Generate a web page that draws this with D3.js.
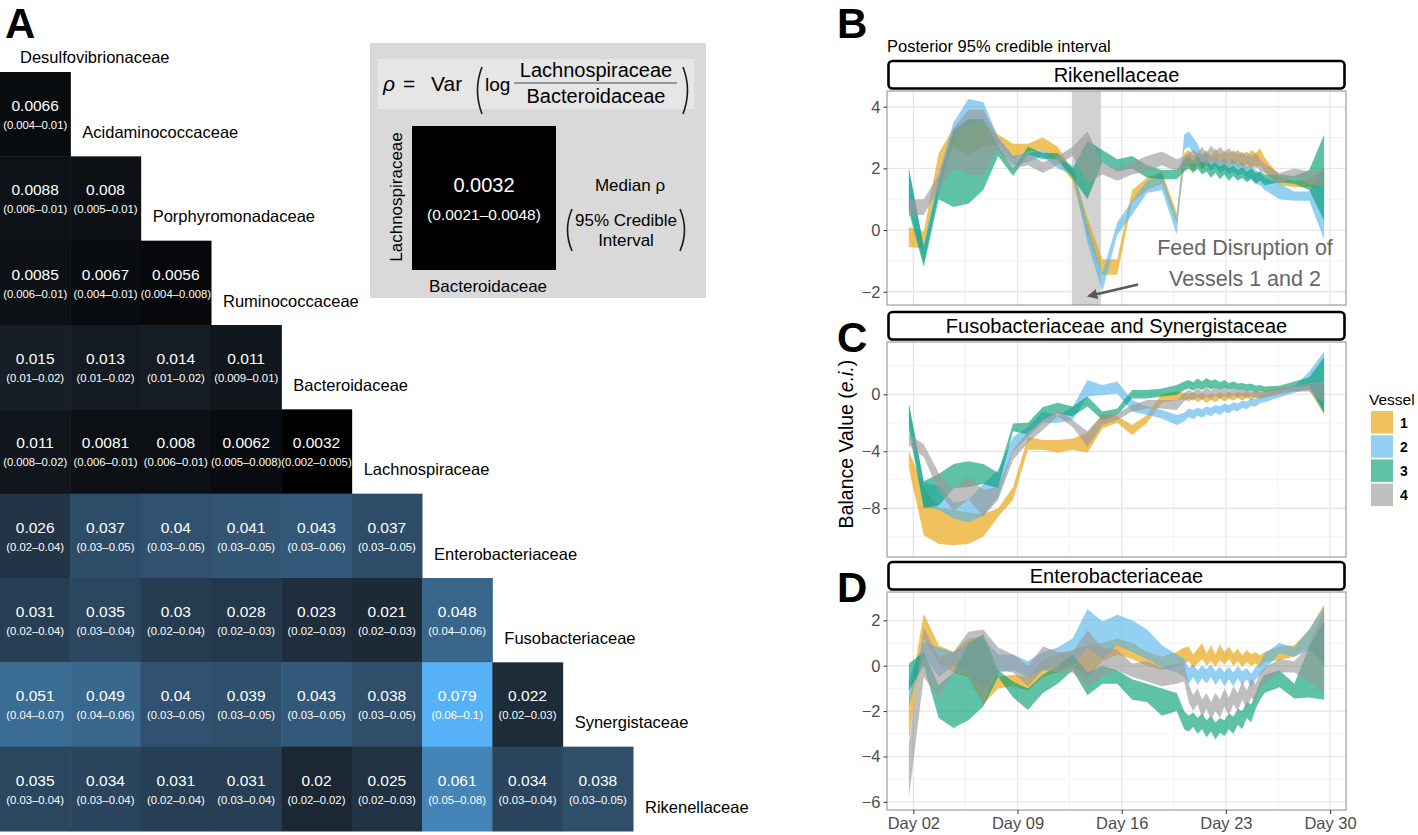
<!DOCTYPE html>
<html><head><meta charset="utf-8">
<script src="https://cdn.jsdelivr.net/npm/d3@7"></script>
<style>body{margin:0;background:#fff}svg{display:block;font-family:"Liberation Sans",Arial,Helvetica,sans-serif}</style>
</head><body><svg id="c" width="1418" height="835"></svg>
<script>
// ---------- Panel A data ----------
const taxa = ["Desulfovibrionaceae","Acidaminococcaceae","Porphyromonadaceae","Ruminococcaceae","Bacteroidaceae","Lachnospiraceae","Enterobacteriaceae","Fusobacteriaceae","Synergistaceae","Rikenellaceae"];
const medians = [
  [0.0066],
  [0.0088,0.008],
  [0.0085,0.0067,0.0056],
  [0.015,0.013,0.014,0.011],
  [0.011,0.0081,0.008,0.0062,0.0032],
  [0.026,0.037,0.04,0.041,0.043,0.037],
  [0.031,0.035,0.03,0.028,0.023,0.021,0.048],
  [0.051,0.049,0.04,0.039,0.043,0.038,0.079,0.022],
  [0.035,0.034,0.031,0.031,0.02,0.025,0.061,0.034,0.038]
];
const intervals = [
  ["0.004–0.01"],
  ["0.006–0.01","0.005–0.01"],
  ["0.006–0.01","0.004–0.01","0.004–0.008"],
  ["0.01–0.02","0.01–0.02","0.01–0.02","0.009–0.01"],
  ["0.008–0.02","0.006–0.01","0.006–0.01","0.005–0.008","0.002–0.005"],
  ["0.02–0.04","0.03–0.05","0.03–0.05","0.03–0.05","0.03–0.06","0.03–0.05"],
  ["0.02–0.04","0.03–0.04","0.02–0.04","0.02–0.03","0.02–0.03","0.02–0.03","0.04–0.06"],
  ["0.04–0.07","0.04–0.06","0.03–0.05","0.03–0.05","0.03–0.05","0.03–0.05","0.06–0.1","0.02–0.03"],
  ["0.03–0.04","0.03–0.04","0.02–0.04","0.03–0.04","0.02–0.02","0.02–0.03","0.05–0.08","0.03–0.04","0.03–0.05"]
];
const exampleMedian = 0.0032;
const exampleInterval = "(0.0021–0.0048)";

// ---------- Panels B-D data ----------
const days = [1.7,2.7,3.7,4.7,5.7,6.7,7.7,8.7,9.7,10.7,
  11.7,12.7,13.7,14.7,15.7,16.7,17.7,18.7,19.7,
  20.2,20.5,20.8,21.1,21.4,21.7,22.0,22.3,22.6,22.9,
  23.2,23.5,23.8,24.1,24.4,24.7,25.0,25.3,25.6,
  26.6,27.6,28.6,29.6];
const dayTicks = [2,9,16,23,30];
const dayTickLabels = ["Day 02","Day 09","Day 16","Day 23","Day 30"];
const vessels = ["1","2","3","4"];
const vesselColors = ["#E69F00","#56B4E9","#009E73","#999999"];
const disruption = [12.65,14.6];

const rikenV1 = [
[-0.55,0.1],[-0.6,-0.05],[1.8,2.5],[2.7,3.3],[2.4,3.6],[2.7,3.5],[2.8,3.1],[2.3,2.8],[2.55,2.8],[2.6,3.0],
[2.2,2.7],[1.6,1.95],[-0.2,0.4],[-1.45,-0.95],[-1.45,-0.95],[0.9,1.3],[1.3,1.7],[1.5,1.9],[0.2,0.55],
[2.0,2.5],[2.1,2.6],[1.9,2.4],[2.1,2.5],[1.95,2.45],[2.15,2.6],[2.0,2.4],[2.2,2.65],[2.0,2.45],[2.15,2.55],
[1.95,2.5],[2.2,2.6],[2.0,2.45],[2.1,2.55],[1.95,2.4],[2.1,2.6],[2.0,2.5],[2.1,2.65],[1.9,2.35],
[1.45,1.75],[1.4,1.6],[1.4,1.65],[1.35,2.0]];
const rikenV2 = [
[0.8,2.0],[-1.1,-0.5],[1.2,1.8],[2.9,3.5],[3.4,4.25],[3.5,4.15],[2.6,3.0],[2.1,2.4],[2.2,2.5],[2.4,2.6],
[2.0,2.3],[1.8,2.1],[-0.4,0.2],[-2.0,-1.4],[-0.15,0.25],[0.5,0.95],[1.2,1.6],[1.3,1.8],[-0.15,0.4],
[2.6,3.1],[2.7,3.2],[2.5,3.0],[2.3,2.8],[2.0,2.45],[2.1,2.5],[1.9,2.3],[2.05,2.4],[1.85,2.25],[1.95,2.35],
[1.8,2.2],[1.9,2.3],[1.75,2.15],[1.85,2.2],[1.65,2.05],[1.7,2.1],[1.5,1.95],[1.45,1.85],[1.3,1.7],
[1.0,1.5],[0.95,1.25],[0.95,1.25],[-0.3,2.0]];
const rikenV3 = [
[0.6,2.0],[-1.2,-0.55],[1.0,1.6],[0.75,3.2],[0.85,3.6],[1.3,3.6],[2.4,2.7],[1.75,2.0],[2.45,2.7],[2.3,2.5],
[2.3,2.5],[1.7,2.0],[1.0,2.9],[2.2,2.6],[1.9,2.3],[2.0,2.4],[1.7,2.1],[1.65,1.95],[1.65,1.95],
[1.9,2.3],[2.0,2.4],[1.85,2.25],[2.0,2.4],[1.8,2.2],[1.9,2.25],[1.7,2.1],[1.85,2.2],[1.65,2.05],[1.8,2.15],
[1.6,2.0],[1.75,2.1],[1.6,1.95],[1.7,2.05],[1.55,1.9],[1.65,2.0],[1.5,1.85],[1.6,1.9],[1.45,1.8],
[1.55,1.8],[1.5,1.75],[1.3,1.95],[0.3,3.1]];
const rikenV4 = [
[0.45,1.0],[0.5,1.0],[1.3,1.8],[2.0,3.3],[1.8,3.9],[1.8,3.9],[2.6,3.0],[2.0,2.4],[2.1,2.5],[1.85,2.2],
[2.1,2.4],[2.4,2.7],[1.5,3.2],[1.8,2.2],[1.6,2.0],[1.8,2.2],[1.9,2.4],[2.1,2.55],[1.9,2.3],
[2.0,2.4],[2.1,2.5],[2.2,2.6],[2.05,2.5],[2.25,2.7],[2.1,2.5],[2.3,2.75],[2.15,2.55],[2.3,2.7],[2.1,2.55],
[2.25,2.65],[2.1,2.5],[2.2,2.6],[2.05,2.45],[2.15,2.55],[2.0,2.4],[2.1,2.5],[1.9,2.3],[1.85,2.15],
[1.5,1.85],[1.7,2.0],[1.5,1.9],[1.35,2.0]];

const fusoV1 = [
[-5.2,-4.0],[-9.9,-6.5],[-10.5,-8.0],[-10.6,-8.1],[-10.5,-8.3],[-10.0,-8.4],[-8.6,-8.0],[-7.4,-6.5],[-3.9,-3.0],[-3.9,-3.2],
[-4.1,-3.2],[-3.9,-3.1],[-4.1,-2.7],[-2.4,-1.4],[-2.0,-1.55],[-2.85,-2.15],[-2.0,-1.45],[-0.6,0.05],[-0.4,0.2],
[-0.35,0.1],[-0.5,0.0],[-0.3,0.15],[-0.55,-0.05],[-0.35,0.1],[-0.6,-0.1],[-0.4,0.05],[-0.55,-0.05],[-0.3,0.15],[-0.5,0.0],
[-0.3,0.2],[-0.45,0.0],[-0.25,0.2],[-0.45,0.05],[-0.2,0.25],[-0.4,0.05],[-0.2,0.25],[-0.35,0.1],[-0.2,0.2],
[0.1,0.4],[0.2,0.45],[0.3,0.65],[-1.45,0.6]];
const fusoV2 = [
[-2.0,-0.8],[-7.9,-6.2],[-8.1,-6.4],[-8.7,-7.6],[-9.0,-7.4],[-8.5,-6.3],[-7.2,-5.3],[-4.0,-3.0],[-3.0,-2.3],[-2.0,-1.2],
[-2.0,-1.5],[-1.8,-0.9],[-0.15,1.0],[-0.05,0.65],[0.05,0.9],[-1.2,-0.4],[-1.45,-0.85],[-1.7,-1.1],[-2.15,-1.45],
[-1.9,-1.3],[-1.6,-1.0],[-1.75,-1.1],[-1.5,-0.95],[-1.65,-1.05],[-1.4,-0.85],[-1.55,-0.95],[-1.3,-0.75],[-1.45,-0.85],[-1.2,-0.65],
[-1.35,-0.75],[-1.1,-0.55],[-1.2,-0.65],[-0.95,-0.45],[-1.05,-0.5],[-0.8,-0.3],[-0.85,-0.35],[-0.6,-0.1],[-0.55,0.0],
[-0.2,0.3],[0.1,0.55],[0.35,1.6],[-1.3,3.0]];
const fusoV3 = [
[-2.5,-0.6],[-8.0,-6.1],[-7.8,-5.6],[-6.6,-4.9],[-6.5,-4.7],[-6.3,-4.9],[-6.6,-5.5],[-2.6,-2.05],[-2.8,-2.0],[-1.8,-0.9],
[-1.35,-0.6],[-1.55,-0.85],[-0.85,-0.15],[-1.8,-1.2],[-1.45,-1.0],[-0.3,0.3],[-0.3,0.3],[-0.15,0.4],[-0.05,0.65],
[0.3,0.9],[0.4,1.0],[0.25,0.85],[0.45,1.1],[0.3,0.9],[0.5,1.15],[0.35,0.95],[0.45,1.05],[0.3,0.85],[0.45,1.0],
[0.3,0.8],[0.4,0.9],[0.25,0.75],[0.35,0.8],[0.2,0.7],[0.3,0.75],[0.15,0.6],[0.25,0.65],[0.15,0.55],
[0.3,0.6],[0.5,0.9],[0.6,1.2],[-1.3,2.6]];
const fusoV4 = [
[-3.6,-2.8],[-4.4,-3.5],[-6.8,-5.5],[-8.2,-6.6],[-7.4,-5.8],[-8.6,-6.7],[-7.4,-6.5],[-4.6,-3.9],[-3.4,-2.6],[-2.5,-1.8],
[-1.55,-1.1],[-2.3,-1.8],[-3.7,-2.6],[-2.15,-1.45],[-1.8,-1.35],[-1.2,-0.75],[-1.0,-0.4],[-1.0,-0.4],[-1.1,-0.4],
[-0.5,0.1],[-0.3,0.3],[-0.45,0.15],[-0.2,0.45],[-0.4,0.2],[-0.15,0.5],[-0.35,0.25],[-0.1,0.5],[-0.3,0.3],[-0.1,0.45],
[-0.3,0.25],[-0.05,0.45],[-0.25,0.25],[-0.1,0.4],[-0.3,0.2],[-0.1,0.35],[-0.3,0.15],[-0.15,0.3],[-0.25,0.2],
[0.0,0.5],[0.2,0.6],[0.2,0.8],[-0.6,0.9]];

const enteroV1 = [
[-3.3,-1.5],[1.2,2.3],[0.1,0.9],[-0.3,0.6],[-0.5,1.2],[-1.7,1.3],[-1.0,-0.5],[-0.9,-0.4],[-1.1,-0.5],[-0.5,0.3],
[-0.3,0.5],[0.0,0.7],[-0.5,0.9],[0.2,1.0],[0.5,1.2],[0.3,1.0],[0.0,0.6],[-0.2,0.4],[0.0,0.6],
[0.1,0.8],[0.2,0.85],[-0.1,0.5],[0.1,0.75],[0.3,1.0],[0.0,0.55],[0.2,0.9],[-0.05,0.5],[0.25,0.95],[0.05,0.6],
[0.3,0.85],[0.0,0.55],[0.2,0.75],[-0.05,0.45],[0.15,0.7],[0.0,0.5],[0.1,0.6],[-0.05,0.45],[0.15,0.6],
[0.25,0.85],[0.4,0.9],[0.85,1.6],[0.0,2.7]];
const enteroV2 = [
[-1.8,-0.6],[0.45,1.05],[-0.5,0.8],[0.0,0.6],[-0.3,1.0],[-1.0,1.2],[-0.3,0.5],[-0.2,0.5],[-0.5,0.2],[-0.2,0.6],
[0.0,0.8],[0.0,1.2],[0.8,2.5],[0.3,1.95],[0.9,2.25],[0.6,2.0],[0.3,1.6],[-0.1,0.9],[-0.3,0.5],
[-0.5,0.3],[-0.8,-0.1],[-0.5,0.05],[-0.85,-0.2],[-0.55,0.0],[-0.8,-0.15],[-0.5,0.05],[-0.85,-0.25],[-0.55,-0.05],[-0.9,-0.3],
[-0.6,-0.05],[-0.9,-0.3],[-0.55,0.0],[-0.85,-0.25],[-0.6,-0.1],[-0.95,-0.35],[-0.6,-0.05],[-0.4,0.1],[-0.2,0.55],
[0.55,1.0],[0.4,0.8],[0.7,1.6],[0.0,2.6]];
const enteroV3 = [
[-1.1,0.1],[0.0,0.6],[-2.3,-0.85],[-2.75,-0.3],[-2.4,1.0],[-1.8,1.4],[-0.5,-0.2],[-1.4,-0.7],[-1.95,-1.0],[-1.2,-0.4],
[-0.8,0.0],[-0.2,0.5],[-1.3,-0.3],[-0.8,0.0],[-0.8,-0.2],[-1.5,-0.6],[-1.6,-0.8],[-2.2,-1.0],[-2.0,-1.2],
[-2.8,-2.0],[-2.9,-2.2],[-2.7,-2.05],[-3.0,-2.3],[-2.8,-2.1],[-3.15,-2.4],[-2.9,-2.2],[-3.25,-2.5],[-2.95,-2.3],[-3.1,-2.4],
[-2.8,-2.1],[-3.0,-2.25],[-2.6,-1.9],[-2.8,-2.0],[-2.3,-1.6],[-2.5,-1.7],[-1.9,-1.2],[-1.5,-0.7],[-1.2,-0.4],
[-0.95,-0.2],[-1.45,-0.8],[-1.4,0.85],[-1.5,1.95]];
const enteroV4 = [
[-5.8,-3.5],[-0.5,1.7],[-1.4,0.4],[-0.3,0.6],[-0.4,1.5],[-1.7,1.6],[-0.2,0.8],[-0.3,0.5],[-0.9,0.0],[-0.2,0.85],
[-0.3,0.6],[-0.3,0.6],[-0.9,1.55],[-0.5,0.8],[-0.2,0.7],[-0.5,0.1],[-0.7,0.2],[-0.9,-0.1],[-0.8,0.1],
[-0.7,0.1],[-1.6,-0.8],[-2.0,-1.3],[-1.7,-1.0],[-2.3,-1.5],[-1.9,-1.2],[-2.4,-1.6],[-2.0,-1.2],[-2.3,-1.5],[-1.8,-1.0],
[-2.2,-1.4],[-1.7,-0.9],[-2.0,-1.2],[-1.5,-0.7],[-1.9,-1.1],[-1.4,-0.6],[-1.6,-0.8],[-1.0,-0.3],[-0.8,-0.1],
[-0.3,0.3],[-0.3,0.2],[-0.7,0.9],[-1.2,2.5]];

// ---------- Drawing ----------
const svg = d3.select("#c");

// Panel letters
[["A",5,38],["B",837,38],["C",837,352],["D",837,602]].forEach(([t,x,y])=>{
  svg.append("text").attr("x",x).attr("y",y).attr("font-size",42).attr("font-weight","bold").text(t);
});

// Heatmap
const xA = d3.scaleBand().domain(taxa.slice(0,9)).range([0,633]);
const yA = d3.scaleBand().domain(taxa.slice(1)).range([72,831]);
const colA = d3.scaleLinear().domain([0.0032,0.079]).range(["#000000","#56B1F7"]).interpolate(d3.interpolateLab);
const cells = [];
medians.forEach((row,i)=>row.forEach((v,j)=>cells.push({r:taxa[i+1],c:taxa[j],v,ci:intervals[i][j]})));
const gA = svg.append("g");
gA.selectAll("rect.cell").data(cells).join("rect").attr("class","cell")
  .attr("x",d=>xA(d.c)).attr("y",d=>yA(d.r)).attr("width",xA.bandwidth()+0.5).attr("height",yA.bandwidth()+0.5)
  .attr("fill",d=>colA(d.v));
gA.selectAll("text.val").data(cells).join("text").attr("class","val")
  .attr("x",d=>xA(d.c)+xA.bandwidth()/2).attr("y",d=>yA(d.r)+39)
  .attr("text-anchor","middle").attr("fill","#fff").attr("font-size",15.5).text(d=>d.v);
gA.selectAll("text.ci").data(cells).join("text").attr("class","ci")
  .attr("x",d=>xA(d.c)+xA.bandwidth()/2).attr("y",d=>yA(d.r)+57)
  .attr("text-anchor","middle").attr("fill","#fff").attr("font-size",11.3).text(d=>"("+d.ci+")");
gA.append("text").attr("x",20).attr("y",63).attr("font-size",16.5).text(taxa[0]);
taxa.slice(1).forEach((t,i)=>{
  gA.append("text").attr("x",(i+1)*xA.bandwidth()+12).attr("y",yA(t)+66).attr("font-size",16.5).text(t);
});

// Inset explanation box
const gI = svg.append("g");
const paren = (x,y0,y1,dir)=>{
  const bow = 9*dir;
  gI.append("path").attr("d",`M${x},${y0} Q${x-bow},${(y0+y1)/2} ${x},${y1}`)
    .attr("fill","none").attr("stroke","#1a1a1a").attr("stroke-width",1.6);
};
gI.append("rect").attr("x",370).attr("y",43).attr("width",336).attr("height",255).attr("fill","#d9d9d9");
gI.append("rect").attr("x",378).attr("y",59).attr("width",316).attr("height",50).attr("fill","#e6e6e6");
gI.append("text").attr("x",383).attr("y",91).attr("font-size",21).attr("font-style","italic").text("ρ");
gI.append("text").attr("x",403).attr("y",91).attr("font-size",21).text("=");
gI.append("text").attr("x",431).attr("y",91).attr("font-size",21).text("Var");
paren(482,67,114,1);
paren(683,67,114,-1);
gI.append("text").attr("x",485).attr("y",91).attr("font-size",19).text("log");
gI.append("text").attr("x",596).attr("y",77).attr("font-size",20).attr("text-anchor","middle").text(taxa[5]);
gI.append("line").attr("x1",514).attr("x2",677).attr("y1",83).attr("y2",83).attr("stroke","#444").attr("stroke-width",1);
gI.append("text").attr("x",596).attr("y",103).attr("font-size",20).attr("text-anchor","middle").text(taxa[4]);
gI.append("rect").attr("x",412).attr("y",126).attr("width",144).attr("height",144).attr("fill",colA(exampleMedian));
gI.append("text").attr("x",484).attr("y",192).attr("font-size",20).attr("fill","#fff").attr("text-anchor","middle").text(exampleMedian);
gI.append("text").attr("x",484).attr("y",220).attr("font-size",15.5).attr("fill","#fff").attr("text-anchor","middle").text(exampleInterval);
gI.append("text").attr("transform","translate(402,197) rotate(-90)").attr("font-size",17).attr("text-anchor","middle").text(taxa[5]);
gI.append("text").attr("x",488).attr("y",292).attr("font-size",17).attr("text-anchor","middle").text(taxa[4]);
gI.append("text").attr("x",630).attr("y",191).attr("font-size",17).attr("text-anchor","middle").text("Median  ρ");
gI.append("text").attr("x",626).attr("y",226).attr("font-size",17).attr("text-anchor","middle").text("95% Credible");
gI.append("text").attr("x",626).attr("y",246).attr("font-size",17).attr("text-anchor","middle").text("Interval");
paren(572,209,251,1);
paren(680,209,251,-1);

// Time-series panels
const xT = d3.scaleLinear().domain([0.23,31.07]).range([887,1346]);
const panels = [
  {title:"Rikenellaceae", series:[rikenV1,rikenV2,rikenV3,rikenV4], strip:61, top:91, bottom:305, dom:[-2.43,4.51], ticks:[-2,0,2,4], minor:[-1,1,3], disrupt:true},
  {title:"Fusobacteriaceae and Synergistaceae", series:[fusoV1,fusoV2,fusoV3,fusoV4], strip:312, top:342, bottom:557, dom:[-11.42,3.67], ticks:[-8,-4,0], minor:[-10,-6,-2,2]},
  {title:"Enterobacteriaceae", series:[enteroV1,enteroV2,enteroV3,enteroV4], strip:562, top:592, bottom:810, dom:[-6.36,3.25], ticks:[-6,-4,-2,0,2], minor:[-5,-3,-1,1,3], xaxis:true}
];
const xMinor = [5.5,12.5,19.5,26.5];
const defs = svg.append("defs");
defs.append("marker").attr("id","arr").attr("viewBox","0 0 10 10").attr("refX",8).attr("refY",5)
  .attr("markerWidth",4).attr("markerHeight",4).attr("orient","auto")
  .append("path").attr("d","M0,0 L10,5 L0,10 z").attr("fill","#595959");
panels.forEach((p,pi)=>{
  const y = d3.scaleLinear().domain(p.dom).range([p.bottom,p.top]);
  const g = svg.append("g");
  const clipId = "clip"+pi;
  defs.append("clipPath").attr("id",clipId).append("rect").attr("x",887).attr("y",p.top).attr("width",459).attr("height",p.bottom-p.top);
  const gc = g.append("g").attr("clip-path",`url(#${clipId})`);
  gc.selectAll("line.ymin").data(p.minor).join("line").attr("x1",887).attr("x2",1346).attr("y1",d=>y(d)).attr("y2",d=>y(d)).attr("stroke","#f2f2f2").attr("stroke-width",0.9);
  gc.selectAll("line.xmin").data(xMinor).join("line").attr("y1",p.top).attr("y2",p.bottom).attr("x1",d=>xT(d)).attr("x2",d=>xT(d)).attr("stroke","#f2f2f2").attr("stroke-width",0.9);
  gc.selectAll("line.ymaj").data(p.ticks).join("line").attr("x1",887).attr("x2",1346).attr("y1",d=>y(d)).attr("y2",d=>y(d)).attr("stroke","#e6e6e6").attr("stroke-width",1.3);
  gc.selectAll("line.xmaj").data(dayTicks).join("line").attr("y1",p.top).attr("y2",p.bottom).attr("x1",d=>xT(d)).attr("x2",d=>xT(d)).attr("stroke","#e6e6e6").attr("stroke-width",1.3);
  if(p.disrupt){
    gc.append("rect").attr("x",xT(disruption[0])).attr("width",xT(disruption[1])-xT(disruption[0]))
      .attr("y",p.top).attr("height",p.bottom-p.top).attr("fill","#d2d2d2");
  }
  const area = d3.area().x((d,i)=>xT(days[i])).y0(d=>y(d[0])).y1(d=>y(d[1]));
  p.series.forEach((s,k)=>{
    gc.append("path").datum(s).attr("d",area).attr("fill",vesselColors[k]).attr("fill-opacity",0.63);
  });
  g.append("rect").attr("x",887).attr("y",p.top).attr("width",459).attr("height",p.bottom-p.top)
    .attr("fill","none").attr("stroke","#8a8a8a").attr("stroke-width",1);
  const ya = d3.axisLeft(y).tickValues(p.ticks).tickSize(3.5).tickPadding(3).tickFormat(d=>d===0?"0":String(d).replace("-","−"));
  const gy = g.append("g").attr("transform","translate(887,0)").call(ya);
  gy.select(".domain").remove();
  gy.selectAll("line").attr("stroke","#333");
  gy.selectAll("text").attr("font-size",16.5).attr("fill","#4d4d4d").attr("font-family",'"Liberation Sans",Arial,sans-serif');
  if(p.xaxis){
    const xa = d3.axisBottom(xT).tickValues(dayTicks).tickSize(4).tickPadding(3).tickFormat((d,i)=>dayTickLabels[i]);
    const gx = g.append("g").attr("transform",`translate(0,${p.bottom})`).call(xa);
    gx.select(".domain").remove();
    gx.selectAll("line").attr("stroke","#333");
    gx.selectAll("text").attr("font-size",16.5).attr("fill","#4d4d4d").attr("font-family",'"Liberation Sans",Arial,sans-serif');
  }
  g.append("rect").attr("x",888.5).attr("y",p.strip).attr("width",456).attr("height",27.5).attr("rx",4)
    .attr("fill","#fff").attr("stroke","#000").attr("stroke-width",2.6);
  g.append("text").attr("x",(887+1346)/2).attr("y",p.strip+21).attr("text-anchor","middle").attr("font-size",20).text(p.title);
  if(p.disrupt){
    g.append("text").attr("x",1245).attr("y",255).attr("text-anchor","middle").attr("font-size",21.5).attr("fill","#666").text("Feed Disruption of");
    g.append("text").attr("x",1245).attr("y",286).attr("text-anchor","middle").attr("font-size",21.5).attr("fill","#666").text("Vessels 1 and 2");
    g.append("line").attr("x1",1138).attr("y1",284.5).attr("x2",1089).attr("y2",296).attr("stroke","#595959").attr("stroke-width",2.6).attr("marker-end","url(#arr)");
  }
});

svg.append("text").attr("x",887).attr("y",52).attr("font-size",16.5).text("Posterior 95% credible interval");
const yl = svg.append("text").attr("transform","translate(853,444) rotate(-90)").attr("text-anchor","middle").attr("font-size",19.5);
yl.append("tspan").text("Balance Value (");
yl.append("tspan").attr("font-style","italic").text("e.i.");
yl.append("tspan").text(")");

// Legend
const gL = svg.append("g");
gL.append("text").attr("x",1369).attr("y",405).attr("font-size",15.5).text("Vessel");
vessels.forEach((v,i)=>{
  gL.append("rect").attr("x",1371).attr("y",411+i*24.2).attr("width",22).attr("height",22.5).attr("fill",vesselColors[i]).attr("fill-opacity",0.63);
  gL.append("text").attr("x",1400).attr("y",427.5+i*24.2).attr("font-size",14).attr("font-weight","bold").text(v);
});
</script></body></html>
